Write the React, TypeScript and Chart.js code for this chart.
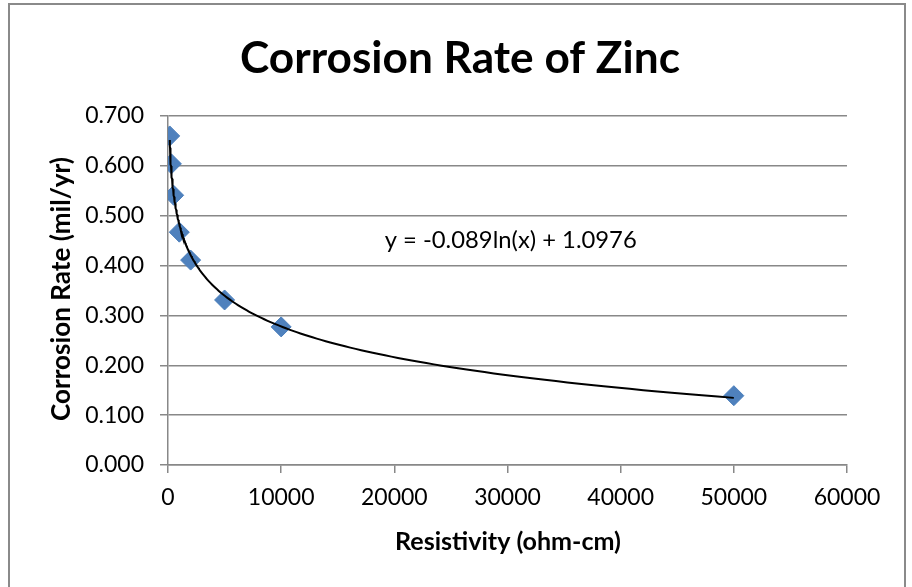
import React, { useEffect, useRef } from "react";
import { Chart, registerables } from "chart.js";

Chart.register(...registerables);

// ---- data ----
const resistivity = [150, 300, 500, 1000, 2000, 5000, 10000, 50000];
const corrosionRate = [0.66, 0.604, 0.541, 0.467, 0.411, 0.331, 0.277, 0.139];
// logarithmic trendline shown on the chart: y = a*ln(x) + b
const trendA = -0.089;
const trendB = 1.0976;
const trendLabel = "y = -0.089ln(x) + 1.0976";
const titleText = "Corrosion Rate of Zinc";
const xTitle = "Resistivity (ohm-cm)";
const yTitle = "Corrosion Rate (mil/yr)";

const FONT = "Lato, 'Open Sans', sans-serif";
const GRID = "#888888";

function fitFont(ctx: CanvasRenderingContext2D, text: string, weight: string, target: number) {
  ctx.font = `${weight} 100px ${FONT}`;
  const w = ctx.measureText(text).width;
  const size = (100 * target) / w;
  return `${weight} ${size.toFixed(2)}px ${FONT}`;
}

const textPlugin = {
  id: "textPlugin",
  afterDraw(chart: any) {
    const ctx: CanvasRenderingContext2D = chart.ctx;
    ctx.save();
    // frame
    ctx.strokeStyle = "#8a8a8a";
    ctx.lineWidth = 2;
    ctx.beginPath();
    ctx.moveTo(9, 700);
    ctx.lineTo(9, 4);
    ctx.lineTo(905, 4);
    ctx.lineTo(905, 700);
    ctx.stroke();

    ctx.fillStyle = "#000";
    ctx.textBaseline = "alphabetic";
    ctx.textAlign = "center";
    // title
    ctx.font = fitFont(ctx, titleText, "bold", 440);
    ctx.fillText(titleText, 460, 73);
    // x title
    ctx.font = fitFont(ctx, xTitle, "bold", 226);
    ctx.fillText(xTitle, 508, 550);
    // y title
    ctx.save();
    ctx.translate(70, 289);
    ctx.rotate(-Math.PI / 2);
    ctx.font = fitFont(ctx, yTitle, "bold", 264);
    ctx.fillText(yTitle, 0, 0);
    ctx.restore();
    // equation label, anchored in data coordinates
    const xs = chart.scales.x;
    const ys = chart.scales.y;
    ctx.textAlign = "left";
    ctx.font = fitFont(ctx, trendLabel, "normal", 252);
    ctx.fillText(trendLabel, xs.getPixelForValue(19150), ys.getPixelForValue(0.436));
    ctx.restore();
  },
};

export default function App() {
  const ref = useRef<HTMLCanvasElement | null>(null);
  useEffect(() => {
    if (!ref.current) return;
    const xmin = Math.min(...resistivity);
    const xmax = Math.max(...resistivity);
    const trend: { x: number; y: number }[] = [];
    const n = 200;
    for (let i = 0; i <= n; i++) {
      const x = Math.exp(Math.log(xmin) + ((Math.log(xmax) - Math.log(xmin)) * i) / n);
      trend.push({ x, y: trendA * Math.log(x) + trendB });
    }
    const points = resistivity.map((x, i) => ({ x, y: corrosionRate[i] }));
    const chart = new Chart(ref.current, {
      type: "scatter",
      data: {
        datasets: [
          {
            label: "trend",
            data: trend,
            showLine: true,
            borderColor: "#000",
            borderWidth: 2,
            pointRadius: 0,
            fill: false,
            tension: 0,
          } as any,
          {
            label: "Corrosion rate",
            data: points,
            pointStyle: "rectRot",
            pointRadius: 10,
            backgroundColor: "#4F81BD",
            borderColor: "#4A7EBB",
            borderWidth: 1,
            showLine: false,
          },
        ],
      },
      options: {
        responsive: false,
        animation: false,
        events: [],
        layout: { padding: { top: 116, right: 65, bottom: 0, left: 0 } },
        plugins: {
          legend: { display: false },
          title: { display: false },
          tooltip: { enabled: false },
        },
        scales: {
          x: {
            type: "linear",
            min: 0,
            max: 60000,
            ticks: {
              stepSize: 10000,
              padding: 11,
              color: "#000",
              font: { family: FONT, size: 23 },
              maxRotation: 0,
              callback: (v: any) => String(v),
            },
            grid: { drawOnChartArea: false, drawTicks: true, tickLength: 8, color: GRID, lineWidth: 1.5 },
            border: { display: true, color: GRID, width: 1.5 },
            afterFit: (s: any) => {
              s.height = 122;
            },
          },
          y: {
            type: "linear",
            min: 0,
            max: 0.7,
            ticks: {
              stepSize: 0.1,
              padding: 16,
              color: "#000",
              font: { family: FONT, size: 23 },
              callback: (v: any) => Number(v).toFixed(3),
            },
            grid: { drawTicks: true, tickLength: 8, color: GRID, lineWidth: 1.5 },
            border: { display: true, color: GRID, width: 1.5 },
            afterFit: (s: any) => {
              s.width = 168;
            },
          },
        },
      },
      plugins: [textPlugin],
    });
    return () => chart.destroy();
  }, []);
  return (
    <div style={{ position: "absolute", left: 0, top: 0, width: 912, height: 587, background: "#fff" }}>
      <canvas ref={ref} width={912} height={587} />
    </div>
  );
}
